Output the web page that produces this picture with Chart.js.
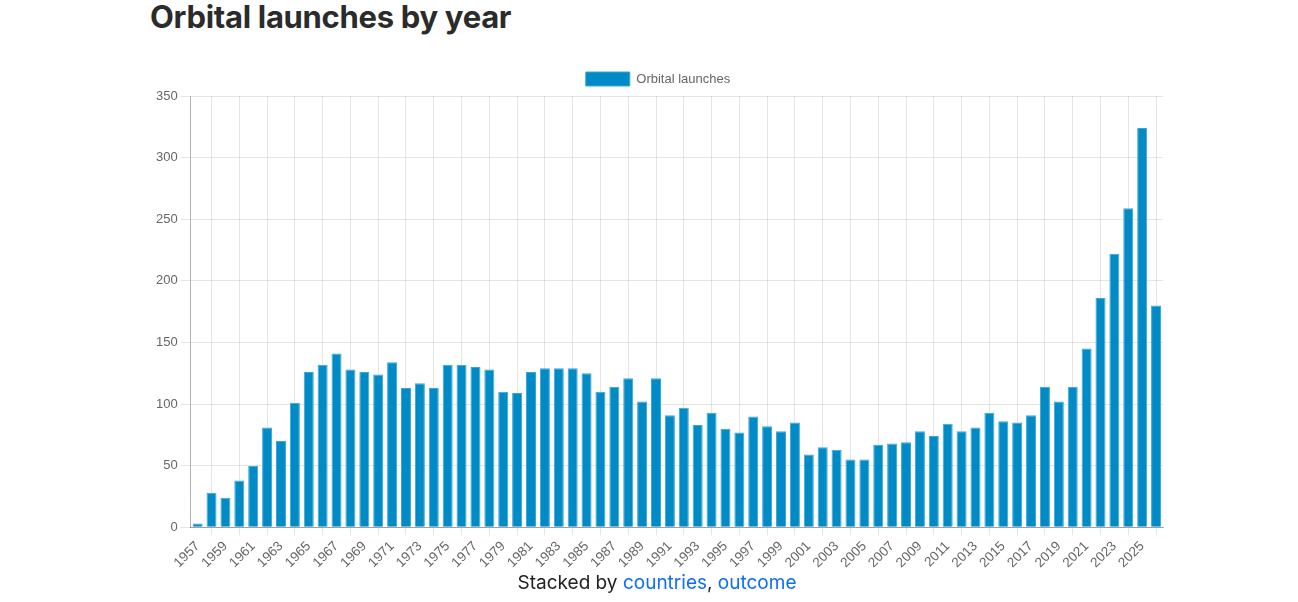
<!DOCTYPE html>
<html>
<head>
<meta charset="utf-8">
<script src="https://cdn.jsdelivr.net/npm/chart.js@4.4.1/dist/chart.umd.min.js"></script>
<style>
  html, body { margin: 0; padding: 0; background: #fff; }
  body { width: 1298px; height: 602px; position: relative; overflow: hidden; font-family: Inter, "Liberation Sans", Arial, sans-serif; }
  h1 { position: absolute; left: 150px; top: -2px; margin: 0; font-size: 31px; font-weight: 700; color: #2b2b2b; letter-spacing: -0.3px; }
  #wrap { position: absolute; left: 150px; top: 62px; width: 1014px; height: 512px; }
  #foot { position: absolute; left: 150px; width: 1014px; top: 571px; text-align: center; font-size: 19px; color: #222; }
  #foot a { color: #0d6efd; text-decoration: none; }
</style>
</head>
<body>
<h1>Orbital launches by year</h1>
<div id="wrap"><canvas id="c"></canvas></div>
<div id="foot">Stacked by <a href="#">countries</a>, <a href="#">outcome</a></div>
<script>
const years = ["1957","1958","1959","1960","1961","1962","1963","1964","1965","1966",
  "1967","1968","1969","1970","1971","1972","1973","1974","1975","1976",
  "1977","1978","1979","1980","1981","1982","1983","1984","1985","1986",
  "1987","1988","1989","1990","1991","1992","1993","1994","1995","1996",
  "1997","1998","1999","2000","2001","2002","2003","2004","2005","2006",
  "2007","2008","2009","2010","2011","2012","2013","2014","2015","2016",
  "2017","2018","2019","2020","2021","2022","2023","2024","2025","2026"];
const launches = [3,28,24,38,50,81,70,101,126,132,
  141,128,126,124,134,113,117,113,132,132,
  130,128,110,109,126,129,129,129,125,110,
  114,121,102,121,91,97,83,93,80,77,
  90,82,78,85,59,65,63,55,55,67,
  68,69,78,74,84,78,81,93,86,85,
  91,114,102,114,145,186,222,259,324,180];
const seriesName = "Orbital launches";
const yTicks = [0,50,100,150,200,250,300,350];

Chart.defaults.font.family = "'Liberation Sans', Arial, sans-serif";
Chart.defaults.font.size = 13;
Chart.defaults.color = '#666';

new Chart(document.getElementById('c'), {
  type: 'bar',
  data: {
    labels: years,
    datasets: [{
      label: seriesName,
      data: launches,
      backgroundColor: '#008bc6',
      borderColor: '#3ba6d6',
      borderWidth: 1
    }]
  },
  options: {
    responsive: true,
    maintainAspectRatio: false,
    animation: false,
    layout: { padding: { left: 3, right: 1 } },
    plugins: {
      legend: {
        position: 'top',
        labels: { boxWidth: 44, boxHeight: 14, font: { size: 13 }, color: '#666' }
      },
      tooltip: { enabled: false }
    },
    scales: {
      x: {
        grid: { color: 'rgba(0,0,0,0.1)', tickLength: 8 },
        border: { color: 'rgba(0,0,0,0.3)' },
        ticks: {
          autoSkip: false,
          maxRotation: 45,
          minRotation: 45,
          font: { size: 13.5 },
          callback: function(v, i) { return i % 2 === 0 ? years[i] : null; }
        }
      },
      y: {
        min: yTicks[0],
        max: yTicks[yTicks.length - 1],
        ticks: { stepSize: 50 },
        grid: { color: 'rgba(0,0,0,0.1)', tickLength: 10 },
        border: { color: 'rgba(0,0,0,0.3)' }
      }
    }
  }
});
</script>
</body>
</html>
